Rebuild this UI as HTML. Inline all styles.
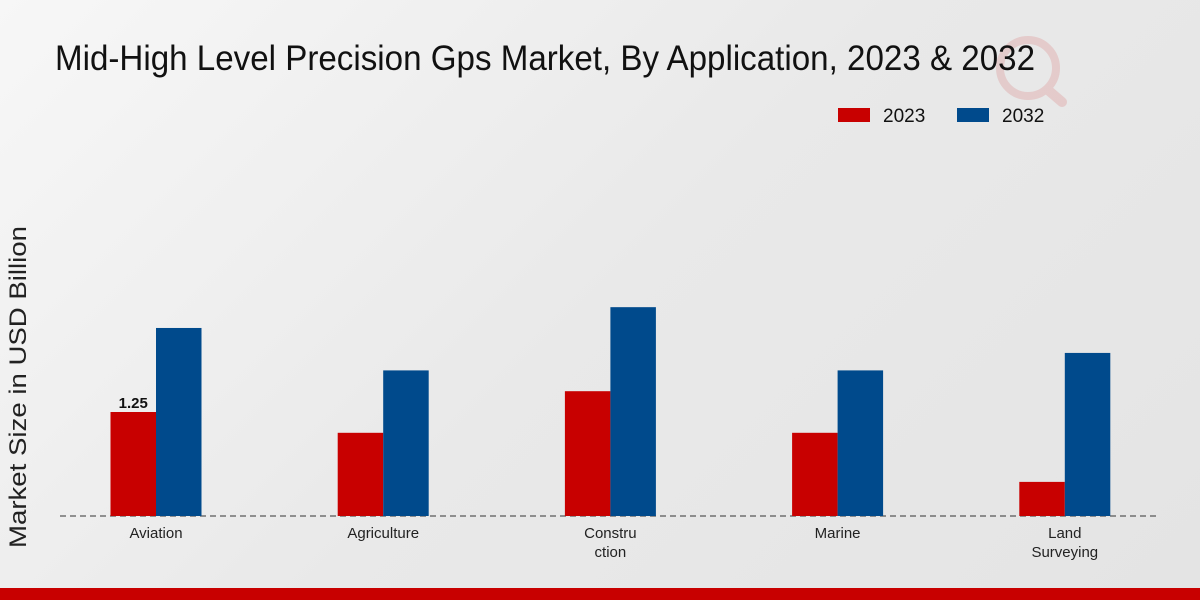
<!DOCTYPE html>
<html><head><meta charset="utf-8">
<style>
html,body{margin:0;padding:0}
body{width:1200px;height:600px;overflow:hidden;background:linear-gradient(135deg,#f7f7f7 0%,#e9e9e9 50%,#e4e4e4 100%);font-family:"Liberation Sans",sans-serif;position:relative}
</style></head>
<body>
<svg width="1200" height="600" style="position:absolute;left:0;top:0" id="chart">
<g opacity="0.12">
<circle cx="1028" cy="68" r="28" fill="none" stroke="#c80000" stroke-width="8"/>
<line x1="1048" y1="90" x2="1062" y2="102" stroke="#c80000" stroke-width="10" stroke-linecap="round"/>
</g>
<text x="55" y="70" font-family="'Liberation Sans Narrow','Liberation Sans',sans-serif" font-size="35" fill="#111" textLength="980" lengthAdjust="spacingAndGlyphs">Mid-High Level Precision Gps Market, By Application, 2023 &amp; 2032</text>
<g>
<rect x="838" y="108" width="32" height="14" fill="#c80000"/>
<text x="883" y="122" font-family="'Liberation Sans Narrow','Liberation Sans',sans-serif" font-size="19" fill="#111">2023</text>
<rect x="957" y="108" width="32" height="14" fill="#004a8c"/>
<text x="1002" y="122" font-family="'Liberation Sans Narrow','Liberation Sans',sans-serif" font-size="19" fill="#111">2032</text>
</g>
<text transform="translate(26,387) rotate(-90)" text-anchor="middle" font-size="24" fill="#222" textLength="322" lengthAdjust="spacingAndGlyphs">Market Size in USD Billion</text>
<line x1="60" y1="516" x2="1160" y2="516" stroke="#333" stroke-dasharray="6,4"/>
<g id="bars"></g>
<rect x="0" y="588" width="1200" height="12" fill="#c80000"/>
</svg>
<script>
const categories=[["Aviation"],["Agriculture"],["Constru","ction"],["Marine"],["Land","Surveying"]];
const values2023=[1.25,1.0,1.5,1.0,0.41];
const values2032=[2.26,1.75,2.51,1.75,1.96];
const ns="http://www.w3.org/2000/svg";
const g=document.getElementById("bars");
const base=516,scale=83.2,x0=156,step=227.2,bw=45.5;
function y(v){return base-v*scale;}
function cx(i){return x0+i*step;}
function mk(tag,attrs){const e=document.createElementNS(ns,tag);for(const k in attrs)e.setAttribute(k,attrs[k]);g.appendChild(e);return e;}
categories.forEach((c,i)=>{
  const r=mk("rect",{x:cx(i)-bw,y:y(values2023[i]),width:bw,height:values2023[i]*scale,fill:"#c80000"});
  
  
  const b=mk("rect",{x:cx(i),y:y(values2032[i]),width:bw,height:values2032[i]*scale,fill:"#004a8c"});
  
  
  c.forEach((line,j)=>{
    const t=mk("text",{x:cx(i),y:538+j*19,"text-anchor":"middle","font-family":"'Liberation Sans Narrow','Liberation Sans',sans-serif","font-size":"15",fill:"#222"});
    t.textContent=line;
    
    
  });
});
const lbl=mk("text",{x:cx(0)-bw/2,y:y(values2023[0])-4,"text-anchor":"middle","font-size":"15","font-weight":"bold",fill:"#111"});
lbl.textContent=values2023[0].toFixed(2);


</script>
</body></html>
